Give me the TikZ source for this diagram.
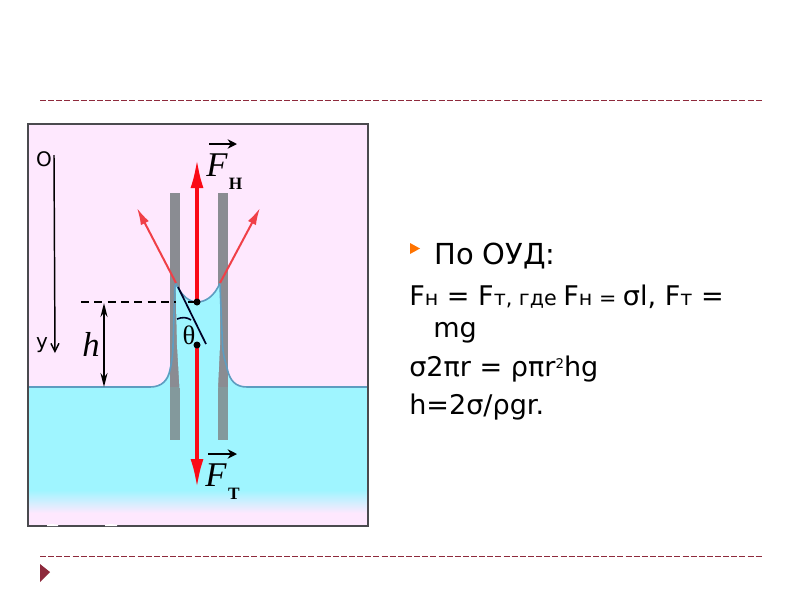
\documentclass[tikz,border=0pt]{standalone}
\usepackage{fontspec}
\setmainfont{DejaVu Sans}
\newfontfamily\serifit{Liberation Serif}
\usetikzlibrary{arrows.meta}
\definecolor{pinkbg}{HTML}{FEE8FE}
\definecolor{water}{HTML}{9FF5FF}
\definecolor{meniscus}{HTML}{5E9CC0}
\definecolor{tubeg}{HTML}{8A8C92}
\definecolor{tubew}{HTML}{83999C}
\definecolor{rule}{HTML}{8E2A3C}
\definecolor{frameg}{HTML}{4A4A4E}
\definecolor{forcered}{HTML}{FA0A16}
\definecolor{arrowred}{HTML}{F04048}
\newcommand{\sm}[1]{{\fontsize{15.5}{15.5}\selectfont #1}}
\tikzset{
  body/.style={anchor=base west,inner sep=0pt,font=\fontsize{20.3}{24}\selectfont,text=black},
  sep/.style={rule,line width=0.75pt,dash pattern=on 4.5pt off 1.6pt},
  bigforce/.style={forcered,line width=3pt,-{Latex[length=30*0.75pt,width=13*0.75pt]}},
  thinforce/.style={arrowred,line width=1.5pt,-{Latex[length=17*0.75pt,width=9*0.75pt]}},
  axisline/.style={black,line width=1.1pt,-{Straight Barb[length=6pt,width=6pt]}},
  forcelabel/.style={inner sep=0pt,font=\serifit\itshape\fontsize{26}{26}\selectfont},
  sublabel/.style={inner sep=0pt,font=\serifit\bfseries\fontsize{13}{13}\selectfont},
  vecbar/.style={black,line width=1.5pt,-{Stealth[length=7pt,width=7pt]}},
  heightline/.style={black,line width=1.5pt,{Stealth[length=14*0.75pt,width=7*0.75pt]}-{Stealth[length=14*0.75pt,width=7*0.75pt]}},
  levelline/.style={black,line width=1.2pt,dash pattern=on 6pt off 4pt},
  wline/.style={meniscus,line width=1.2pt},
  axlabel/.style={inner sep=0pt,font=\fontsize{15}{15}\selectfont},
}
\begin{document}
\begin{tikzpicture}[x=0.75pt,y=-0.75pt]
\useasboundingbox (0,0) rectangle (800,600);
\fill[white] (0,0) rectangle (800,600);
% separators
\coordinate (s1a) at (40,100); \coordinate (s1b) at (762,100);
\coordinate (s2a) at (40,556); \coordinate (s2b) at (762,556);
\draw[sep] (s1a) -- (s1b);
\draw[sep] (s2a) -- (s2b);
% panel
\fill[pinkbg] (28,124) rectangle (368,526);
\fill[water] (28,387) rectangle (368,490);
\shade[top color=water,bottom color=pinkbg] (28,490) rectangle (368,513);
% outer menisci
\fill[water] (150,388) .. controls (165,387) and (171,375) .. (173,345) -- (173,388) -- cycle;
\fill[water] (247,388) .. controls (232,387) and (225,375) .. (223,345) -- (223,388) -- cycle;
% tubes
\fill[tubeg] (170,193) rectangle (179.5,387);
\fill[tubeg] (218,193) rectangle (227.5,387);
\fill[tubew] (170,387) rectangle (179.5,440);
\fill[tubew] (218,387) rectangle (227.5,440);
% liquid column
\fill[water] (175.5,283) .. controls (182,297) and (190,302) .. (197,302)
  .. controls (205,302) and (214,297) .. (220,283)
  -- (220,345) -- (218,388) -- (179.5,388) -- (177,345) -- cycle;
\draw[wline] (150,387) -- (28,387);
\draw[wline] (247,387) -- (368,387);
\draw[wline] (150,387) .. controls (162,387) and (168,380) .. (170,370);
\draw[wline] (247,387) .. controls (235,387) and (230,380) .. (227.5,370);
\draw[wline] (170,370) .. controls (172,360) and (173,355) .. (173,345) -- (175,285);
\draw[wline] (227.5,370) .. controls (225,360) and (223,355) .. (222.5,345) -- (220,285);
\draw[wline] (175.5,283) .. controls (182,297) and (190,302) .. (197,302) .. controls (205,302) and (214,297) .. (220,283);
% frame
\draw[frameg,line width=1.5pt] (28,124) rectangle (368,526);
\fill[white] (47,524.8) -- (52,524) -- (58,524.8) -- (58,526) -- (47,526) -- cycle;
\fill[white] (105,524.8) -- (111,524) -- (117,524.8) -- (117,526) -- (105,526) -- cycle;
% forces
\coordinate (topp) at (197,302);
\coordinate (cent) at (197,345);
\coordinate (lc) at (176,283); \coordinate (rc) at (220,283);
\coordinate (tipL) at (137,208); \coordinate (tipR) at (260,208);
\coordinate (tipU) at (197,158); \coordinate (tipD) at (197,489);
\draw[thinforce] (lc) -- (tipL);
\draw[thinforce] (rc) -- (tipR);
\draw[bigforce] (topp) -- (tipU);
\draw[bigforce] (cent) -- (tipD);
\fill[black] (topp) circle (3.5);
\fill[black] (cent) circle (3.5);
% angle marks
\coordinate (t1) at (178,287); \coordinate (t2) at (206,344);
\draw[black!85!blue,line width=1.3pt] (t1) -- (t2);
\draw[black!85!blue,line width=1.2pt] (177,319) .. controls (182,317) and (187,317) .. (191,320);
\draw[black,line width=1.2pt] (188,302) -- (topp);
\node[inner sep=0pt,font=\serifit\fontsize{20}{20}\selectfont] (theta) at (189,335) {θ};
% level and height
\coordinate (lv1) at (81,302); \coordinate (lv2) at (176,302);
\draw[levelline] (lv1) -- (lv2);
\coordinate (ha) at (104,303); \coordinate (hb) at (104,387);
\draw[heightline] (ha) -- (hb);
\node[forcelabel] (h) at (91,344) {h};
% force labels
\node[forcelabel] (Fh) at (217,165) {F};
\node[sublabel] (Fhs) at (235.5,183.5) {Н};
\coordinate (v1a) at (209,144); \coordinate (v1b) at (237,144);
\draw[vecbar] (v1a) -- (v1b);
\node[forcelabel] (Ft) at (216,475) {F};
\node[sublabel] (Fts) at (234,493.5) {Т};
\coordinate (v2a) at (208,454); \coordinate (v2b) at (237,454);
\draw[vecbar] (v2a) -- (v2b);
% axis
\node[axlabel] (O) at (44,159) {O};
\node[axlabel] (Y) at (42,345) {y};
\coordinate (ax1) at (54,155); \coordinate (ax2) at (55,353);
\draw[axisline] (ax1) -- (ax2);
% bullets
\fill[rule] (40,564) -- (50,572) -- (40,582) -- cycle;
\fill[orange!90!red] (410,243) -- (420,248.5) -- (410,254) -- cycle;
% text
\node[body,font=\fontsize{21.7}{24}\selectfont] (l1) at (434,264) {По ОУД:};
\node[body] (l2) at (409,305) {F\sm{н} = F\sm{т, где }F\sm{н = }σl, F\sm{т} =};
\node[body] (l3) at (433,337) {mg};
\node[body] (l4) at (409,376) {σ2πr = ρπr\raisebox{6pt}{\fontsize{10}{10}\selectfont 2}hg};
\node[body] (l5) at (409,414) {h=2σ/ρgr.};
\end{tikzpicture}
\end{document}
